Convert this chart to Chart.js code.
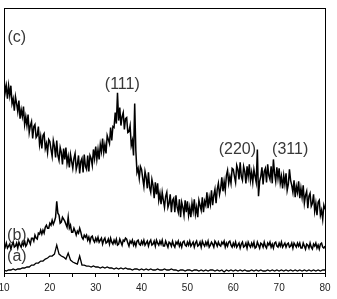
<!DOCTYPE html>
<html>
<head>
<meta charset="utf-8">
<script src="https://cdn.jsdelivr.net/npm/chart.js@4/dist/chart.umd.min.js"></script>
<style>
  html, body { margin: 0; padding: 0; background: #fff; }
  #wrap { width: 337px; height: 299px; }
</style>
</head>
<body>
<div id="wrap"><canvas id="xrd" width="337" height="299"></canvas></div>
<script>
// 2-theta sampling grids (degrees)
const cStart = 10, cStep = 0.25;
const bStart = 10, bStep = 0.25;
const aStart = 10, aStep = 0.5;

// sample (c), every 0.25 deg, arbitrary units
const seriesC = [
  197, 181, 188, 175, 188, 178, 188, 170, 175, 163, 177, 170, 162, 173, 155, 164, 157, 167, 149, 157,
  148, 159, 141, 148, 152, 135, 147, 149, 136, 138, 147, 129, 137, 125, 138, 140, 125, 130, 121, 134,
  132, 124, 117, 133, 127, 116, 133, 118, 113, 126, 121, 109, 125, 114, 126, 110, 117, 106, 119, 112,
  105, 115, 120, 104, 109, 118, 100, 112, 115, 101, 119, 107, 104, 118, 102, 118, 115, 108, 124, 115,
  127, 114, 124, 114, 129, 122, 135, 121, 129, 120, 138, 134, 130, 146, 133, 147, 146, 161, 150, 181,
  153, 166, 148, 157, 161, 144, 155, 156, 141, 142, 148, 128, 133, 118, 170, 123, 101, 105, 95, 107,
  104, 95, 87, 102, 96, 85, 101, 86, 81, 94, 88, 75, 91, 79, 90, 73, 80, 69, 81, 73,
  66, 77, 81, 66, 70, 79, 61, 73, 75, 61, 78, 66, 61, 74, 56, 71, 66, 58, 73, 61,
  72, 58, 66, 56, 70, 62, 74, 59, 66, 56, 73, 68, 63, 76, 61, 72, 68, 81, 65, 76,
  69, 83, 68, 78, 84, 70, 84, 90, 79, 85, 96, 82, 92, 83, 98, 103, 90, 97, 90, 105,
  104, 97, 91, 108, 104, 94, 111, 97, 93, 107, 102, 90, 107, 97, 109, 93, 101, 91, 104, 97,
  91, 124, 77, 92, 97, 106, 89, 102, 105, 91, 109, 98, 94, 107, 90, 114, 100, 92, 106, 95,
  105, 90, 97, 85, 98, 89, 100, 83, 89, 104, 93, 88, 81, 93, 76, 87, 81, 92, 75, 85,
  76, 88, 70, 78, 82, 65, 77, 80, 67, 70, 79, 62, 70, 58, 71, 73, 58, 63, 54, 68,
  64
];

// sample (b), every 0.25 deg
const seriesB = [
  29, 26, 30, 25, 27, 29, 24, 28, 31, 26, 27, 30, 25, 31, 28, 26, 31, 28, 32, 27,
  29, 34, 32, 29, 35, 35, 32, 38, 35, 34, 40, 39, 43, 39, 43, 40, 46, 48, 45, 45,
  50, 48, 53, 49, 52, 56, 72, 60, 58, 50, 51, 56, 54, 52, 49, 46, 56, 45, 48, 41,
  41, 45, 42, 38, 42, 40, 45, 41, 36, 34, 38, 36, 38, 33, 36, 31, 36, 37, 33, 31,
  35, 32, 36, 31, 33, 35, 29, 33, 35, 30, 31, 34, 29, 35, 31, 29, 33, 30, 34, 28,
  29, 34, 31, 28, 33, 32, 35, 34, 30, 27, 32, 30, 33, 28, 31, 27, 32, 33, 29, 28,
  32, 29, 33, 28, 30, 32, 27, 31, 33, 28, 29, 32, 27, 33, 30, 28, 32, 29, 33, 27,
  27, 32, 29, 26, 31, 30, 27, 32, 28, 26, 31, 29, 32, 27, 30, 26, 31, 32, 28, 27,
  31, 28, 32, 27, 29, 31, 26, 30, 32, 27, 28, 31, 26, 32, 29, 27, 31, 28, 32, 26,
  28, 31, 29, 26, 32, 30, 27, 31, 28, 27, 31, 29, 32, 26, 30, 27, 31, 32, 28, 26,
  30, 27, 31, 26, 28, 30, 25, 29, 31, 26, 27, 30, 25, 31, 28, 26, 30, 27, 31, 25,
  26, 31, 28, 25, 30, 29, 26, 31, 27, 25, 30, 28, 31, 26, 29, 25, 30, 31, 27, 26,
  30, 27, 31, 26, 28, 30, 26, 29, 30, 26, 27, 30, 25, 30, 28, 26, 30, 27, 30, 25,
  25, 30, 27, 24, 29, 28, 25, 30, 26, 24, 29, 27, 30, 25, 28, 24, 29, 30, 26, 25,
  27
];

// sample (a), every 0.5 deg
const seriesA = [
  3, 2, 3, 3, 4, 3, 4, 4, 5, 5,
  6, 6, 8, 8, 10, 10, 12, 12, 14, 15,
  17, 17, 19, 28, 19, 17, 16, 14, 20, 13,
  11, 10, 9, 17, 8, 8, 7, 7, 6, 7,
  6, 6, 5, 6, 5, 6, 5, 5, 4, 5,
  4, 5, 4, 5, 4, 4, 3, 4, 4, 3,
  4, 3, 4, 3, 4, 3, 3, 4, 3, 3,
  4, 3, 3, 4, 3, 3, 2, 3, 3, 2,
  3, 3, 2, 3, 3, 2, 3, 2, 3, 2,
  3, 3, 2, 3, 2, 3, 1, 3, 2, 3,
  2, 3, 2, 3, 2, 3, 2, 2, 3, 2,
  3, 2, 3, 2, 2, 3, 2, 3, 2, 3,
  2, 3, 2, 3, 2, 3, 2, 3, 2, 3,
  2, 3, 2, 3, 2, 3, 2, 3, 2, 3,
  3
];

const xTickValues = [10, 15, 20, 25, 30, 35, 40, 45, 50, 55, 60, 65, 70, 75, 80];
const xTickLabels = ['10', '', '20', '', '30', '', '40', '', '50', '', '60', '', '70', '', '80'];

// peak and sample labels, placed in data coordinates
const noteTexts = ['(c)', '(111)', '(220)', '(311)', '(b)', '(a)'];
const noteX = [12.8, 35.8, 60.9, 72.4, 12.8, 12.8];
const noteY = [236, 189, 124, 124, 38, 16];

function toPoints(values, start, step) {
    return values.map((v, i) => ({ x: start + i * step, y: v }));
}

const frame = {
    id: 'frame',
    afterDraw(chart) {
        const { ctx, chartArea: a, scales } = chart;
        ctx.save();
        ctx.strokeStyle = '#000';
        ctx.lineWidth = 1;
        ctx.strokeRect(Math.round(a.left) + 0.5, Math.round(a.top) + 0.5,
            Math.round(a.right - a.left), Math.round(a.bottom - a.top));
        ctx.fillStyle = '#383838';
        ctx.font = '16px "Liberation Sans", Arial, sans-serif';
        ctx.textAlign = 'center';
        ctx.textBaseline = 'middle';
        noteTexts.forEach((t, i) => {
            ctx.fillText(t, scales.x.getPixelForValue(noteX[i]), scales.y.getPixelForValue(noteY[i]));
        });
        ctx.restore();
    },
};

const line = (data, width) => ({
    data,
    borderColor: '#000',
    borderWidth: width,
    pointRadius: 0,
    tension: 0,
    fill: false,
});

new Chart(document.getElementById('xrd'), {
    type: 'line',
    data: {
        datasets: [
            line(toPoints(seriesC, cStart, cStep), 1.5),
            line(toPoints(seriesB, bStart, bStep), 1.5),
            line(toPoints(seriesA, aStart, aStep), 1.3),
        ],
    },
    options: {
        responsive: false,
        animation: false,
        devicePixelRatio: 1,
        layout: { padding: { top: 8, right: 12, bottom: 0, left: 0 } },
        plugins: { legend: { display: false }, tooltip: { enabled: false } },
        scales: {
            x: {
                type: 'linear',
                min: 10,
                max: 80,
                afterBuildTicks: (axis) => {
                    axis.ticks = xTickValues.map((v) => ({ value: v }));
                },
                afterFit: (axis) => {
                    // let the first label hang off the left edge, as in the original
                    axis.paddingLeft = 4;
                },
                ticks: {
                    autoSkip: false,
                    maxRotation: 0,
                    padding: 5,
                    color: '#222',
                    font: { family: '"Liberation Sans", Arial, sans-serif', size: 10 },
                    callback: (v) => xTickLabels[xTickValues.indexOf(v)] ?? '',
                },
                grid: { drawOnChartArea: false, drawTicks: true, tickLength: 4, color: '#000' },
                border: { display: true, color: '#000' },
            },
            y: {
                display: false,
                min: 0,
                max: 266,
            },
        },
    },
    plugins: [frame],
});
</script>
</body>
</html>
